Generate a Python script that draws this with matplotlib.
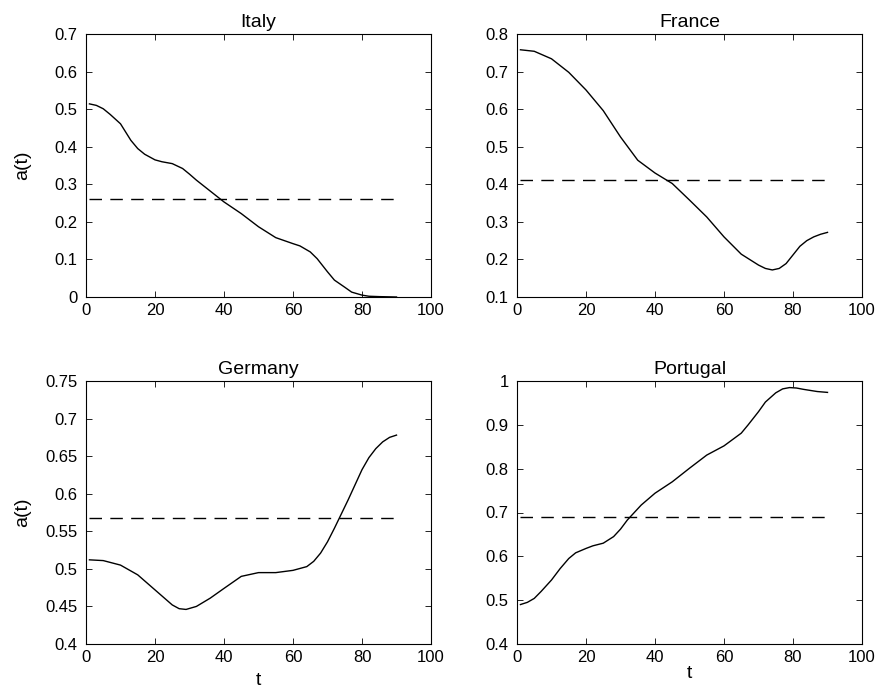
import matplotlib
matplotlib.use("Agg")
import matplotlib.pyplot as plt

plt.rcParams['font.family'] = ['Liberation Sans', 'DejaVu Sans']

# ---- data ----
italy_t = [1, 3, 5, 7, 10, 13, 15, 17, 20, 22, 25, 28, 30, 32, 36, 40, 45, 50, 55, 60, 62,
           65, 67, 70, 72, 75, 77, 80, 82, 85, 90]
italy_a = [0.514, 0.510, 0.501, 0.486, 0.461, 0.417, 0.395, 0.380, 0.365, 0.360, 0.355,
           0.342, 0.327, 0.311, 0.282, 0.253, 0.222, 0.187, 0.158, 0.142, 0.136,
           0.120, 0.102, 0.067, 0.045, 0.026, 0.013, 0.005, 0.002, 0.001, 0.000]
italy_mean = 0.262

france_t = [1, 5, 10, 15, 20, 25, 30, 35, 40, 45, 50, 55, 60, 65, 70, 72, 74, 76, 78, 80,
            82, 84, 86, 88, 90]
france_a = [0.758, 0.754, 0.734, 0.698, 0.651, 0.596, 0.526, 0.464, 0.430, 0.402, 0.358,
            0.313, 0.260, 0.214, 0.185, 0.176, 0.172, 0.176, 0.189, 0.212,
            0.235, 0.250, 0.260, 0.267, 0.272]
france_mean = 0.412

germany_t = [1, 5, 10, 15, 20, 25, 27, 29, 32, 36, 40, 45, 50, 55, 60, 64, 66, 68, 70, 72,
             74, 76, 78, 80, 82, 84, 86, 88, 90]
germany_a = [0.512, 0.511, 0.505, 0.492, 0.472, 0.452, 0.447, 0.446, 0.450, 0.461, 0.474,
             0.490, 0.495, 0.495, 0.498, 0.503, 0.510, 0.521, 0.536, 0.554,
             0.573, 0.592, 0.612, 0.632, 0.648, 0.660, 0.669, 0.675, 0.678]
germany_mean = 0.568

portugal_t = [1, 3, 5, 7, 10, 12.5, 15, 17, 20, 22, 25, 28, 30, 32, 34, 36, 40, 45, 50, 55,
              60, 65, 67, 70, 72, 75, 77, 79, 81, 83, 87, 90]
portugal_a = [0.490, 0.495, 0.504, 0.520, 0.546, 0.572, 0.595, 0.608, 0.618, 0.624, 0.630,
              0.645, 0.662, 0.683, 0.700, 0.717, 0.744, 0.770, 0.801, 0.831,
              0.852, 0.881, 0.900, 0.930, 0.952, 0.973, 0.982, 0.985, 0.984, 0.981,
              0.976, 0.974]
portugal_mean = 0.690

mean_t_range = [1, 91]

titles = ["Italy", "France", "Germany", "Portugal"]
x_ticks = [0, 20, 40, 60, 80, 100]
y_ticks = [
    [0, 0.1, 0.2, 0.3, 0.4, 0.5, 0.6, 0.7],
    [0.1, 0.2, 0.3, 0.4, 0.5, 0.6, 0.7, 0.8],
    [0.4, 0.45, 0.5, 0.55, 0.6, 0.65, 0.7, 0.75],
    [0.4, 0.5, 0.6, 0.7, 0.8, 0.9, 1.0],
]
y_labels = [
    ["0", "0.1", "0.2", "0.3", "0.4", "0.5", "0.6", "0.7"],
    ["0.1", "0.2", "0.3", "0.4", "0.5", "0.6", "0.7", "0.8"],
    ["0.4", "0.45", "0.5", "0.55", "0.6", "0.65", "0.7", "0.75"],
    ["0.4", "0.5", "0.6", "0.7", "0.8", "0.9", "1"],
]

series = [(italy_t, italy_a, italy_mean), (france_t, france_a, france_mean),
          (germany_t, germany_a, germany_mean), (portugal_t, portugal_a, portugal_mean)]

fig = plt.figure(figsize=(8.79, 6.95), dpi=100)
W, H = 879, 695
boxes = [(86, 34, 431, 297), (517, 34, 862, 297), (86, 381, 431, 644), (517, 381, 862, 644)]
xlabel_y = {2: -0.105, 3: -0.08}

for i, ((x0, y0, x1, y1), (t, a, m)) in enumerate(zip(boxes, series)):
    ax = fig.add_axes([x0 / W, 1 - y1 / H, (x1 - x0) / W, (y1 - y0) / H])
    ax.plot(t, a, color='black', lw=1.0, solid_joinstyle='round')
    ax.plot(mean_t_range, [m, m], color='black', lw=1.0, ls=(0, (9, 6)))
    ax.set_xlim(0, 100)
    ax.set_ylim(y_ticks[i][0], y_ticks[i][-1])
    ax.set_xticks(x_ticks)
    ax.set_xticklabels([str(v) for v in x_ticks])
    ax.set_yticks(y_ticks[i])
    ax.set_yticklabels(y_labels[i])
    ax.tick_params(direction='in', top=True, right=True, length=4, width=0.6,
                   labelsize=12, colors='black')
    ax.tick_params(axis='x', pad=4)
    ax.tick_params(axis='y', pad=6)
    for s in ax.spines.values():
        s.set_linewidth(0.8)
    ax.set_title(titles[i], fontsize=14, pad=5)
    if i % 2 == 0:
        ax.set_ylabel("a(t)", fontsize=14)
        ax.yaxis.set_label_coords(-0.16, 0.5)
    if i >= 2:
        ax.set_xlabel("t", fontsize=14)
        ax.xaxis.set_label_coords(0.5, xlabel_y[i])

fig.savefig("out.png", dpi=100)
